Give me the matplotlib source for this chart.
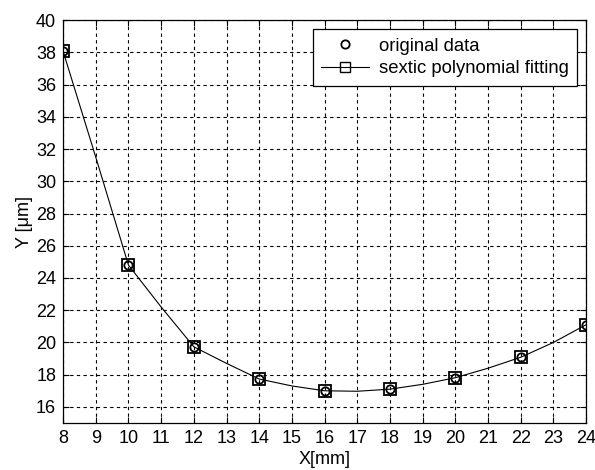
import numpy as np
import matplotlib.pyplot as plt

plt.rcParams['font.family'] = ['Liberation Sans', 'DejaVu Sans']

# measured points
x_data = [8, 10, 12, 14, 16, 18, 20, 22, 24]
y_data = [38.08, 24.8, 19.73, 17.73, 17.0, 17.1, 17.81, 19.08, 21.1]

x_fit = [8, 9, 10, 11, 12, 13, 14, 15, 16, 17, 18, 19, 20, 21, 22, 23, 24]
y_fit = [38.08, 31.5, 24.8, 22.2, 19.73, 18.7, 17.73, 17.3, 17.0, 16.97, 17.1, 17.4,
         17.81, 18.4, 19.08, 20.0, 21.1]

x_ticks = list(range(8, 25))
y_ticks = list(range(16, 41, 2))

fig = plt.figure(figsize=(5.95, 4.7), dpi=100)
ax = fig.add_axes([0.106, 0.1, 0.879, 0.857])

ax.plot(x_data, y_data, linestyle='none', marker='o', ms=6, mfc='none',
        mec='black', mew=1.3, label='original data')
ax.plot(x_fit, y_fit, color='black', lw=0.8, label='_nolegend_')
ax.plot(x_data, y_data, linestyle='none', marker='s', ms=8, mfc='none',
        mec='black', mew=1.3)
# legend handle for the fit
ax.plot([], [], color='black', lw=0.8, marker='s', ms=7, mfc='none', mec='black',
        label='sextic polynomial fitting')

ax.set_xlim(8, 24)
ax.set_ylim(15, 40)
ax.set_xticks(x_ticks)
ax.set_yticks(y_ticks)
ax.tick_params(direction='in', top=True, right=True, labelsize=13, length=4, width=0.8,
               pad=5)
ax.grid(True, color='black', linestyle=(0, (3, 3)), linewidth=0.8)
for s in ax.spines.values():
    s.set_linewidth(0.9)

ax.set_xlabel('X[mm]', fontsize=13, labelpad=3)
ax.set_ylabel('Y [μm]', fontsize=13, labelpad=2)

handles, labels = ax.get_legend_handles_labels()
leg = ax.legend(handles, labels, loc='upper right', fontsize=13.3, fancybox=False,
                framealpha=1, edgecolor='black', handlelength=2.6, borderpad=0.45,
                labelspacing=0.3, handletextpad=0.5, borderaxespad=0.5)
leg.get_frame().set_linewidth(0.9)

fig.savefig('out.png', dpi=100)
